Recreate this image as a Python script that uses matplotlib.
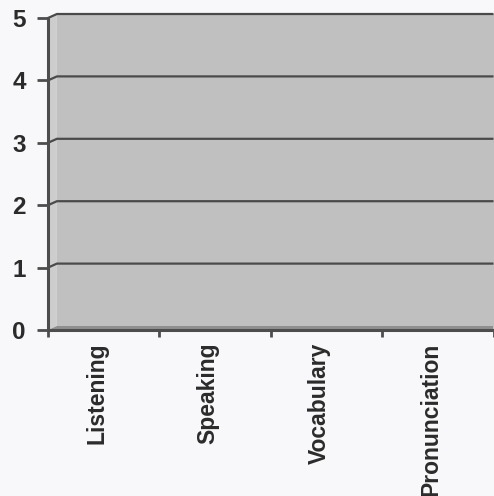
import matplotlib
matplotlib.use("Agg")
import matplotlib.pyplot as plt
from matplotlib.patches import Polygon
from matplotlib.transforms import ScaledTranslation
import numpy as np

categories = ["Listening", "Speaking", "Vocabulary", "Pronunciation"]
scores = [0, 0, 0, 0]
y_ticks = [0, 1, 2, 3, 4, 5]

plt.rcParams["font.family"] = ["Liberation Sans", "DejaVu Sans"]
plt.rcParams["font.weight"] = "bold"

text_col = "#2b2b2b"
axis_col = "#4d4d4d"
wall_col = "#c0c0c0"
side_col = "#cdcdcd"
floor_col = "#8f8f8f"
grid_col = "#4a4a4a"

fig = plt.figure(figsize=(4.94, 4.96), dpi=100, facecolor="#f8f8fa")
ax = fig.add_axes([48 / 494, 1 - 330 / 496, 445.5 / 494, 312 / 496])
ax.set_facecolor("none")

n = len(categories)
x = np.arange(n)
ax.set_xlim(-0.5, n - 0.5)
ax.set_ylim(0, 5)

# depth of the pseudo-3D back wall, in data units
dx, dy = 0.08, 0.064
x0, x1 = -0.5, n - 0.5

# side wall strip
ax.add_patch(Polygon([[x0, 0], [x0 + dx, dy], [x0 + dx, 5 + dy], [x0, 5]],
                     closed=True, facecolor=side_col, edgecolor="none",
                     clip_on=False, zorder=0))
# back wall
ax.add_patch(Polygon([[x0 + dx, dy], [x1, dy], [x1, 5 + dy], [x0 + dx, 5 + dy]],
                     closed=True, facecolor=wall_col, edgecolor="none",
                     clip_on=False, zorder=0))
# floor
ax.add_patch(Polygon([[x0, 0], [x0 + dx, dy], [x1, dy], [x1, 0]],
                     closed=True, facecolor=floor_col, edgecolor="none",
                     clip_on=False, zorder=0.5))

# gridlines drawn on the back wall
for v in y_ticks[1:]:
    ax.plot([x0, x0 + dx, x1], [v, v + dy, v + dy], color=grid_col,
            lw=1.6, clip_on=False, zorder=1, solid_capstyle="butt")

# bars (scores)
ax.bar(x, scores, width=0.6, color="#7f7f7f", zorder=2)

# axes styling
for s in ["top", "right"]:
    ax.spines[s].set_visible(False)
for s in ["left", "bottom"]:
    ax.spines[s].set_color(axis_col)
    ax.spines[s].set_linewidth(2.2)
    ax.spines[s].set_zorder(3)

ax.set_yticks(y_ticks)
ax.set_yticklabels([str(t) for t in y_ticks])
ax.tick_params(axis="y", length=8, width=2, color=axis_col, pad=8,
               labelsize=17.5, labelcolor=text_col)

# category boundaries carry the tick marks, centres carry the labels
ax.set_xticks(np.arange(n + 1) - 0.5)
ax.set_xticklabels([])
ax.tick_params(axis="x", which="major", length=5, width=2, color=axis_col,
               direction="out")
ax.set_xticks(x, minor=True)
ax.set_xticklabels(categories, minor=True, rotation=90)
ax.tick_params(axis="x", which="minor", length=0, pad=9,
               labelsize=16.5, labelcolor=text_col)
shift = ScaledTranslation(-7 / 100, 0, fig.dpi_scale_trans)
for lbl in ax.get_xticklabels(minor=True):
    lbl.set_transform(lbl.get_transform() + shift)
    lbl.set_fontweight("bold")
for lbl in ax.get_yticklabels():
    lbl.set_fontweight("bold")

fig.savefig("out.png", dpi=100, facecolor=fig.get_facecolor())
